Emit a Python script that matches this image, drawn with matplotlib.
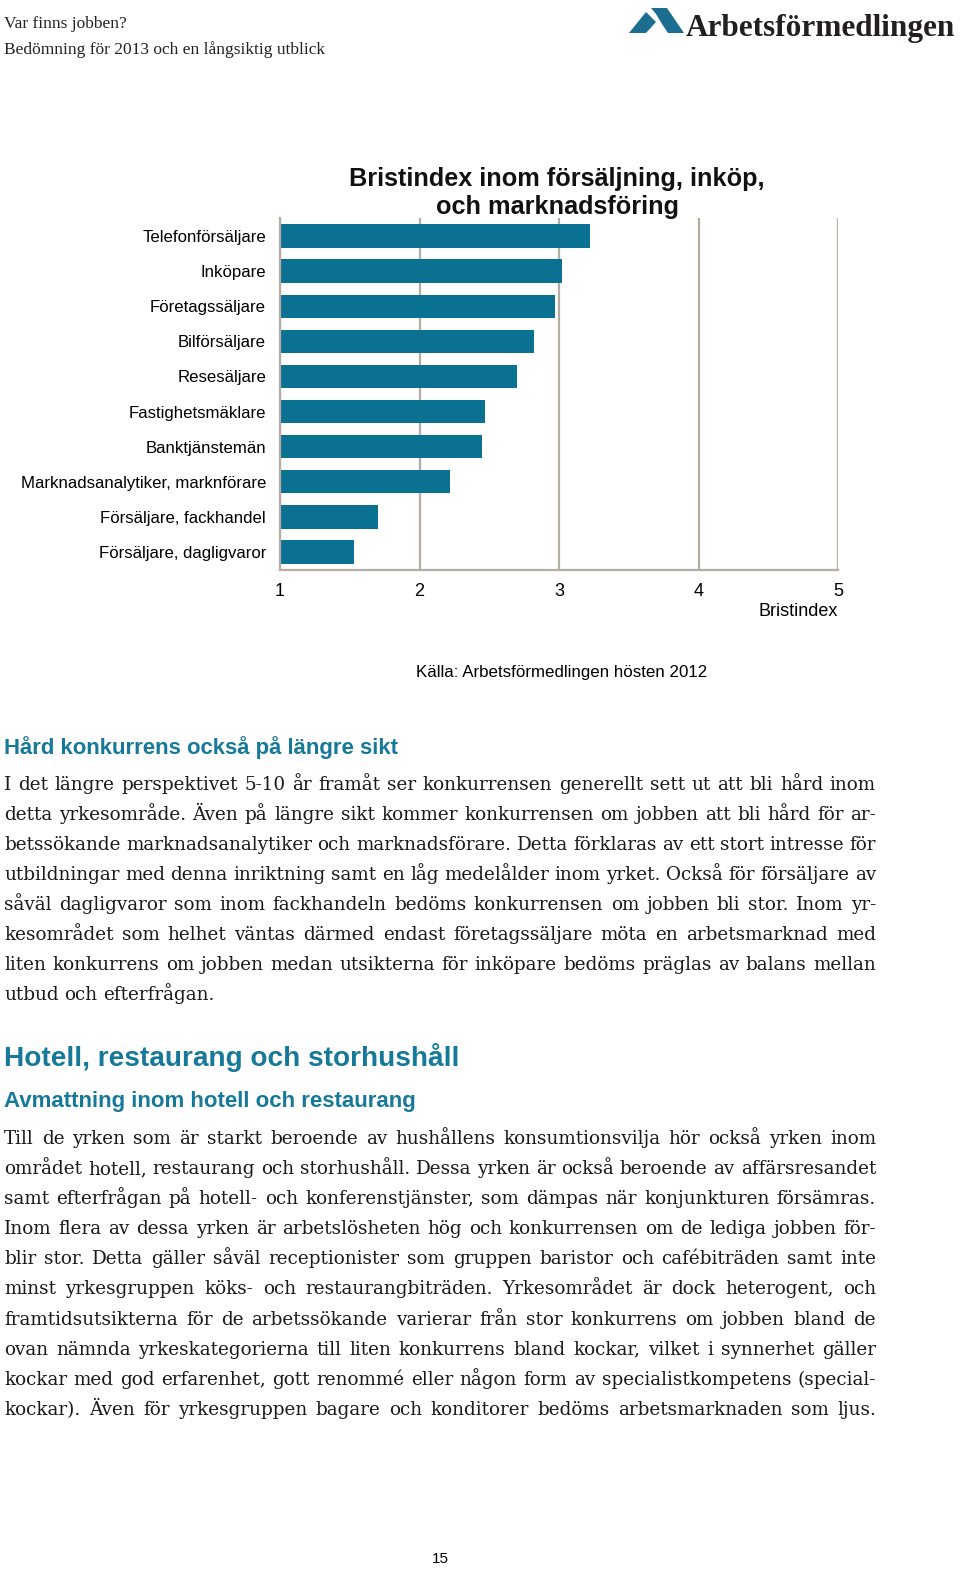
import matplotlib
matplotlib.use('Agg')
import matplotlib.pyplot as plt
import numpy as np
from matplotlib.patches import Polygon

W, H = 960, 1569
DPI = 100

# Data
categories = ['Telefonförsäljare', 'Inköpare', 'Företagssäljare', 'Bilförsäljare',
              'Resesäljare', 'Fastighetsmäklare', 'Banktjänstemän',
              'Marknadsanalytiker, marknförare', 'Försäljare, fackhandel',
              'Försäljare, dagligvaror']
values = [3.22, 3.02, 2.97, 2.82, 2.70, 2.47, 2.45, 2.22, 1.70, 1.53]
xticks = [1, 2, 3, 4, 5]

para1 = [
    "I det längre perspektivet 5-10 år framåt ser konkurrensen generellt sett ut att bli hård inom",
    "detta yrkesområde. Även på längre sikt kommer konkurrensen om jobben att bli hård för ar-",
    "betssökande marknadsanalytiker och marknadsförare. Detta förklaras av ett stort intresse för",
    "utbildningar med denna inriktning samt en låg medelålder inom yrket. Också för försäljare av",
    "såväl dagligvaror som inom fackhandeln bedöms konkurrensen om jobben bli stor. Inom yr-",
    "kesområdet som helhet väntas därmed endast företagssäljare möta en arbetsmarknad med",
    "liten konkurrens om jobben medan utsikterna för inköpare bedöms präglas av balans mellan",
    "utbud och efterfrågan.",
]
para2 = [
    "Till de yrken som är starkt beroende av hushållens konsumtionsvilja hör också yrken inom",
    "området hotell, restaurang och storhushåll. Dessa yrken är också beroende av affärsresandet",
    "samt efterfrågan på hotell- och konferenstjänster, som dämpas när konjunkturen försämras.",
    "Inom flera av dessa yrken är arbetslösheten hög och konkurrensen om de lediga jobben för-",
    "blir stor. Detta gäller såväl receptionister som gruppen baristor och cafébiträden samt inte",
    "minst yrkesgruppen köks- och restaurangbiträden. Yrkesområdet är dock heterogent, och",
    "framtidsutsikterna för de arbetssökande varierar från stor konkurrens om jobben bland de",
    "ovan nämnda yrkeskategorierna till liten konkurrens bland kockar, vilket i synnerhet gäller",
    "kockar med god erfarenhet, gott renommé eller någon form av specialistkompetens (special-",
    "kockar). Även för yrkesgruppen bagare och konditorer bedöms arbetsmarknaden som ljus.",
]

BAR = '#0b7193'
TEAL = '#17799a'
GRID = '#b3ada3'
SANS = 'Liberation Sans'
SERIF = 'DejaVu Serif'

fig = plt.figure(figsize=(W / DPI, H / DPI), dpi=DPI)
fig.patch.set_facecolor('white')


def fx(px):
    return px / W


def fy(py):
    return 1 - py / H


# header
fig.text(fx(4), fy(28), 'Var finns jobben?', family='Liberation Serif', fontsize=12.5,
         color='#222222', va='baseline')
fig.text(fx(4), fy(54), 'Bedömning för 2013 och en långsiktig utblick', family='Liberation Serif',
         fontsize=12.5, color='#222222', va='baseline')

# logo
fig.text(fx(955), fy(36), 'Arbetsförmedlingen', family='Liberation Serif',
         fontweight='bold', fontsize=22.5, color='#231f20', ha='right', va='baseline')
icon_left = [(629, 33), (646, 12), (656, 22), (646, 33)]
icon_right = [(651, 8), (667, 8), (684, 33), (668, 33), (662, 24), (656, 14)]
for pts in (icon_left, icon_right):
    fig.patches.append(Polygon([(fx(a), fy(b)) for a, b in pts], closed=True,
                               transform=fig.transFigure, facecolor='#1b6e8f',
                               edgecolor='none'))

# chart
ax = fig.add_axes([fx(280), fy(570), (838 - 280) / W, (570 - 218) / H])
y = np.arange(len(categories))
ax.barh(y, values, height=0.66, color=BAR, zorder=2)
ax.set_xlim(1, 5)
ax.set_ylim(len(categories) - 0.5 + 0.01, -0.51)
ax.set_xticks(xticks)
ax.set_xticklabels([str(t) for t in xticks], family=SANS, fontsize=13)
ax.set_yticks(y)
ax.set_yticklabels(categories, family=SANS, fontsize=12.1)
ax.tick_params(axis='x', length=0, pad=9.5)
ax.tick_params(axis='y', length=0, pad=10)
ax.grid(axis='x', color=GRID, linewidth=1.6, zorder=0)
ax.set_axisbelow(True)
for s in ['top', 'right']:
    ax.spines[s].set_visible(False)
for s in ['left', 'bottom']:
    ax.spines[s].set_color(GRID)
    ax.spines[s].set_linewidth(1.6)

fig.text(fx(557), fy(193), 'Bristindex inom försäljning, inköp,\noch marknadsföring',
         family=SANS, fontweight='bold', fontsize=18.2, ha='center', va='center',
         linespacing=1.22, color='#111111')
fig.text(fx(838), fy(611), 'Bristindex', family=SANS, fontsize=13, ha='right', va='center')
fig.text(fx(562), fy(673), 'Källa: Arbetsförmedlingen hösten 2012', family=SANS,
         fontsize=12.2, ha='center', va='center')

# headings
fig.text(fx(4), fy(748), 'Hård konkurrens också på längre sikt', family=SANS,
         fontweight='bold', fontsize=15.9, color=TEAL, va='center')
fig.text(fx(4), fy(1058), 'Hotell, restaurang och storhushåll', family=SANS,
         fontweight='bold', fontsize=20.2, color=TEAL, va='center')
fig.text(fx(4), fy(1102), 'Avmattning inom hotell och restaurang', family=SANS,
         fontweight='bold', fontsize=16.0, color=TEAL, va='center')

renderer = fig.canvas.get_renderer()
X0, X1 = 4, 876


def word_widths(line, size):
    out = []
    for w in line.split(' '):
        t = fig.text(0, 0, w, family=SERIF, fontsize=size)
        out.append(t.get_window_extent(renderer).width)
        t.remove()
    return out


# pick the body size so the tightest justified line still has ~5 px spaces
ref = 10.0
scale = min((X1 - X0 - 5.0 * (len(l.split(' ')) - 1)) / sum(word_widths(l, ref))
            for l in para1[:-1] + para2)
body_size = ref * scale


def justify(lines, base0, step, justify_last=False):
    kw = dict(family=SERIF, fontsize=body_size, color='#1a1a1a')
    sp = fig.text(0, 0, 'a a', **kw)
    nsp = fig.text(0, 0, 'aa', **kw)
    space = sp.get_window_extent(renderer).width - nsp.get_window_extent(renderer).width
    sp.remove()
    nsp.remove()
    for i, line in enumerate(lines):
        yy = fy(base0 + i * step)
        words = line.split(' ')
        ts = [fig.text(0, yy, w, va='baseline', ha='left', **kw) for w in words]
        widths = [t.get_window_extent(renderer).width for t in ts]
        last = (i == len(lines) - 1) and not justify_last
        if last or len(words) < 2:
            gap = space
        else:
            gap = (X1 - X0 - sum(widths)) / (len(words) - 1)
        x = X0
        for t, wd in zip(ts, widths):
            t.set_x(fx(x))
            x += wd + gap


justify(para1, 790, 30.0)
justify(para2, 1144, 30.1, justify_last=True)

fig.text(fx(440), fy(1559), '15', family=SANS, fontsize=11, ha='center', va='center')

fig.savefig('out.png', dpi=DPI)
